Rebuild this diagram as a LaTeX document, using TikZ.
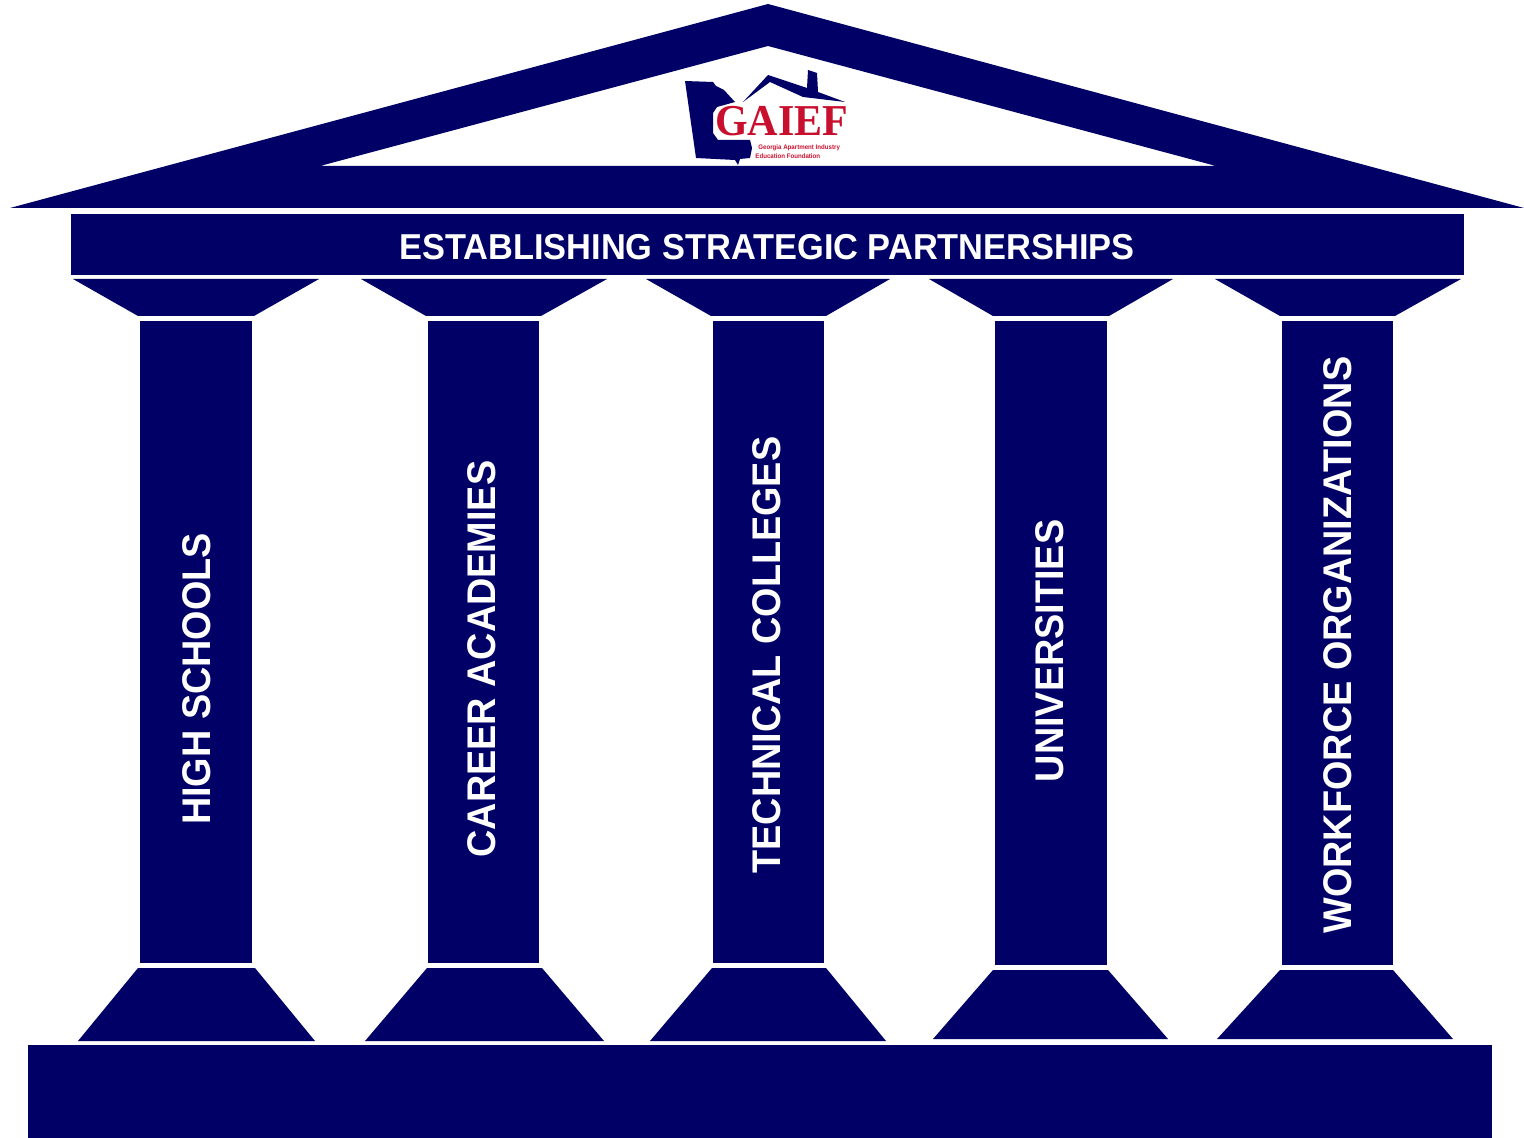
\documentclass[tikz,border=0pt]{standalone}
\usepackage{fontspec}
\setmainfont{Liberation Sans}
\newfontfamily\logofont{Liberation Serif}
\definecolor{navy}{HTML}{000066}
\definecolor{logored}{HTML}{C8102E}
\tikzset{
  part/.style={fill=navy,draw=none},
  collabel/.style={rotate=90,text=white,font=\fontsize{20}{20}\selectfont\bfseries,inner sep=0pt},
  logosmall/.style={text=logored,font=\fontsize{3.3}{3.3}\selectfont\bfseries,inner sep=0pt,anchor=west},
}
\newcommand{\squeeze}[1]{\scalebox{.945}[1]{#1}}
\newcommand{\pillar}[9]{%
  \fill[part] (#4,279) -- (#5,279) -- (#3+2,316) -- (#2-2,316) -- cycle;
  \fill[part] (#8,\basetop) -- (#9,\basetop) -- (#7,\basebot) -- (#6,\basebot) -- cycle;
  \node[part,inner sep=0pt,minimum width={(#3-#2)*0.5pt},minimum height={(\shaftbot-321)*0.5pt},anchor=north west] (#1) at (#2,321) {};
}
\begin{document}
\begin{tikzpicture}[x=0.5pt,y=-0.5pt]
\useasboundingbox (0,0) rectangle (1524,1138);
\fill[part,even odd rule] (768,4) -- (1524,208) -- (10,208) -- cycle
      (768,46) -- (1216,166) -- (320,166) -- cycle;
% logo
\fill[navy] (685,81) -- (713,82) -- (716,86) -- (724,90) -- (735,102) -- (717,107) -- (713,113) -- (713,133) -- (718,140) -- (750,140) -- (752,148) -- (750,158) -- (740,159) -- (738,165) -- (735,160) -- (696,158) -- (693,137) -- cycle;
\fill[navy] (743,102) -- (768,75) -- (807,88) -- (808,70) -- (817,73) -- (818,92) -- (845,102) -- (803,97) -- (770,82) -- cycle;
\node[text=logored,font=\logofont\fontsize{21}{21}\selectfont\bfseries,inner sep=0pt,yscale=1.05] (gaief) at (781.5,121.5) {GAIEF};
\node[logosmall] (g1) at (758,147.5) {\scalebox{.93}[1]{Georgia Apartment Industry}};
\node[logosmall] (g2) at (755,156.5) {\scalebox{.93}[1]{Education Foundation}};
% entablature
\node[part,inner sep=0pt,minimum width=696.5pt,minimum height=30.5pt,anchor=north west] (ent) at (71,214) {};
\node[text=white,font=\fontsize{18}{18}\selectfont\bfseries,inner sep=0pt] (title) at (767,247) {\scalebox{.955}[1]{ESTABLISHING STRATEGIC PARTNERSHIPS}};
% pillars
\def\basetop{968}\def\basebot{1041}\def\shaftbot{963}
\pillar{p1}{140}{252}{73}{319}{78}{315}{138}{255}
\pillar{p2}{428}{539}{361}{607}{365}{604}{427}{542}
\pillar{p3}{713}{824}{646}{890}{650}{886}{712}{826}
\def\basetop{970}\def\basebot{1039}\def\shaftbot{965}
\pillar{p4}{995}{1107}{929}{1173}{933}{1168}{993}{1108}
\pillar{p5}{1282}{1393}{1215}{1461}{1217}{1453}{1280}{1393}
\node[collabel] (l1) at (197,679) {\squeeze{HIGH SCHOOLS}};
\node[collabel] (l2) at (482,659) {\squeeze{CAREER ACADEMIES}};
\node[collabel] (l3) at (767,655) {\squeeze{TECHNICAL COLLEGES}};
\node[collabel] (l4) at (1050,651) {\squeeze{UNIVERSITIES}};
\node[collabel] (l5) at (1338,645) {\squeeze{WORKFORCE ORGANIZATIONS}};
% plinth
\node[part,inner sep=0pt,minimum width=732pt,minimum height=46.5pt,anchor=north west] (plinth) at (28,1045) {};
\end{tikzpicture}
\end{document}
